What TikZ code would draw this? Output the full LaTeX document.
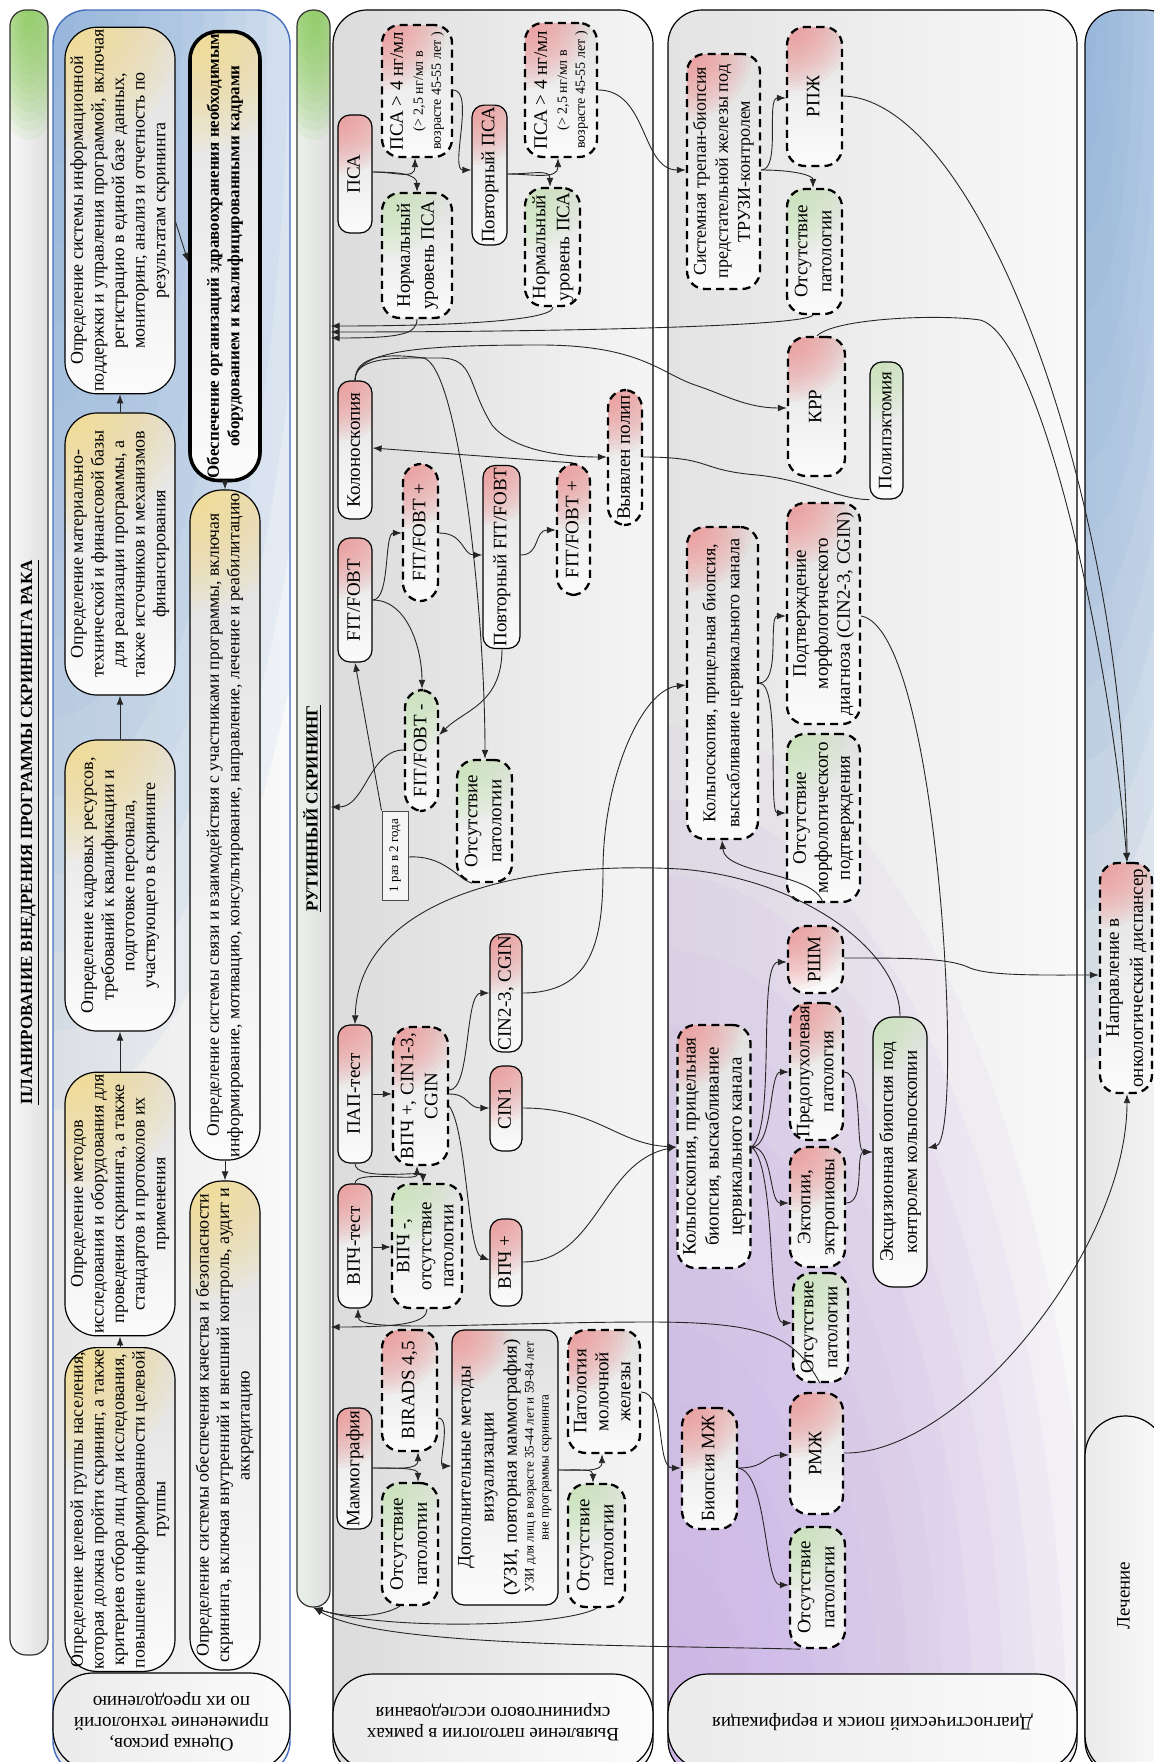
\documentclass[tikz,border=0pt]{standalone}
\usepackage{fontspec}
\setmainfont{Liberation Serif}
\usepackage{graphicx}
\usetikzlibrary{arrows.meta,calc}
\definecolor{pinkc}{RGB}{245,140,140}
\definecolor{greenc}{RGB}{200,235,180}
\definecolor{yellowc}{RGB}{250,220,130}
\definecolor{bluec}{RGB}{130,172,220}
\definecolor{purplec}{RGB}{200,170,232}
\definecolor{bargreen}{RGB}{125,200,70}
\definecolor{bandblue}{RGB}{70,110,190}
\newcommand{\rtxt}[1]{\rotatebox{90}{\begin{tabular}{@{}c@{}}#1\end{tabular}}}
\newcommand{\udtxt}[1]{\rotatebox{180}{\begin{tabular}{@{}c@{}}#1\end{tabular}}}
\newcommand{\mybox}[7]{\node[#2, minimum width={(#5-#3)*0.5pt}, minimum height={(#6-#4)*0.5pt}] (#1) at ({(#3+#5)/2},{(#4+#6)/2}) {#7};}
\newcommand{\smt}[1]{{\fontsize{7}{8}\selectfont #1}}
\newcommand{\softblob}[4]{\foreach \k in {1,...,14}{\fill[#1, opacity=0.09] #2 ellipse ({#3*\k/14} and {#4*\k/14});}}
\tikzset{
  nd/.style={inner sep=1pt, font=\fontsize{9.5}{12}\selectfont, top color=gray!24, bottom color=gray!3},
  corner/.style 2 args={path picture={\softblob{#1}{(path picture bounding box.north west)}{#2}{#2}}},
  sol/.style={nd, draw=black, line width=0.6pt, rounded corners=6pt},
  dsh/.style={nd, draw=black, line width=1.15pt, dash pattern=on 4pt off 2.6pt, rounded corners=9pt},
  solR/.style={sol, corner={pinkc}{60}},
  solG/.style={sol, corner={greenc}{60}},
  dshR/.style={dsh, corner={pinkc}{65}},
  dshG/.style={dsh, corner={greenc}{65}},
  plan/.style={nd, draw=black, line width=0.6pt, rounded corners=16pt, font=\fontsize{9}{10.3}\selectfont, corner={yellowc}{120}},
  labst/.style={draw=black, line width=0.6pt, rounded corners=20pt, left color=gray!16, right color=gray!3, font=\fontsize{9.5}{10.5}\selectfont, inner sep=0pt},
  barst/.style={draw=black!80, line width=0.6pt, rounded corners=8pt, left color=gray!6, right color=gray!25, inner sep=0pt, font=\fontsize{8.5}{10}\selectfont, path picture={\softblob{bargreen}{(path picture bounding box.north)}{45}{130}}},
  con/.style={draw=black!85, line width=0.45pt, -{Latex[length=4.5pt,width=3.4pt]}},
  lin/.style={draw=black!85, line width=0.45pt},
}
\begin{document}
\begin{tikzpicture}[x=0.5pt,y=-0.5pt]
\useasboundingbox (0,0) rectangle (1154,1762);
% ---------- bands
\path[draw=bandblue, line width=0.7pt, rounded corners=17pt, left color=gray!20, right color=gray!4,
  path picture={\softblob{bluec}{(53,10)}{300}{1100}}] (53,10) rectangle (290,1775);
\path[draw=black, line width=0.6pt, rounded corners=17pt, left color=gray!28, right color=gray!8] (333,10) rectangle (653,1775);
\path[draw=black, line width=0.6pt, rounded corners=17pt, left color=gray!22, right color=gray!5,
  path picture={\softblob{purplec}{(668,1775)}{430}{1050}}] (668,10) rectangle (1077,1775);
\path[draw=black, line width=0.6pt, rounded corners=17pt, left color=gray!20, right color=gray!6,
  path picture={\softblob{bluec}{(1085,10)}{170}{1050}}] (1085,10) rectangle (1180,1775);
% ---------- band labels
\mybox{lab2}{labst, path picture={\softblob{bluec}{(53,1775)}{230}{130}}}{53}{1673}{290}{1770}{\udtxt{Оценка рисков,\\применение технологий\\по их преодолению}}
\mybox{lab4}{labst}{333}{1674}{653}{1770}{\udtxt{Выявление патологии в рамках\\скринингового исследования}}
\mybox{lab5}{labst, path picture={\softblob{purplec}{(668,1775)}{320}{160}}}{668}{1674}{1077}{1770}{\udtxt{Диагностический поиск и верификация}}
\mybox{lech}{labst, path picture={\softblob{bluec}{(1085,1416)}{130}{280}}}{1085}{1416}{1166}{1775}{\rtxt{Лечение}}
% ---------- title bars
\mybox{bar1}{barst}{10}{10}{48}{1655}{\rtxt{\bfseries\underline{ПЛАНИРОВАНИЕ ВНЕДРЕНИЯ ПРОГРАММЫ СКРИНИНГА РАКА}}}
\mybox{bar3}{barst, left color=green!22!gray!14}{297}{10}{330}{1607}{\rtxt{\bfseries\underline{РУТИННЫЙ СКРИНИНГ}}}
% ---------- planning column
\mybox{info}{plan}{65}{34}{175}{387}{\rtxt{Определение системы информационной\\поддержки и управления программой, включая\\регистрацию в единой базе данных,\\мониторинг, анализ и отчетность по\\результатам скрининга}}
\mybox{mat}{plan}{65}{413}{175}{695}{\rtxt{Определение материально-\\технической и финансовой базы\\для реализации программы, а\\также источников и механизмов\\финансирования}}
\mybox{kadr}{plan}{65}{740}{175}{1031}{\rtxt{Определение кадровых ресурсов,\\требований к квалификации и\\подготовке персонала,\\участвующего в скрининге}}
\mybox{metod}{plan}{65}{1074}{175}{1334}{\rtxt{Определение методов\\исследования и оборудования для\\проведения скрининга, а также\\стандартов и протоколов их\\применения}}
\mybox{tsel}{plan}{65}{1349}{175}{1670}{\rtxt{Определение целевой группы населения,\\которая должна пройти скрининг, а также\\критериев отбора лиц для исследования,\\повышение информированности целевой\\группы}}
\mybox{obesp}{plan, line width=1.8pt, rounded corners=14pt, font=\fontsize{8.5}{10.3}\selectfont\bfseries}{190}{34}{260}{478}{\rtxt{Обеспечение организаций здравоохранения необходимым\\оборудованием и квалифицированными кадрами}}
\mybox{svyaz}{plan, font=\fontsize{8.8}{10.3}\selectfont}{190}{490}{260}{1160}{\rtxt{Определение системы связи и взаимодействия с участниками программы, включая\\информирование, мотивацию, консультирование, направление, лечение и реабилитацию}}
\mybox{kach}{plan}{190}{1181}{260}{1670}{\rtxt{Определение системы обеспечения качества и безопасности\\скрининга, включая внутренний и внешний контроль, аудит и\\аккредитацию}}
% ---------- routine screening
\mybox{psa}{solR}{338}{115}{372}{233}{\rtxt{ПСА}}
\mybox{psa4a}{dshR}{382}{25}{452}{157}{\rtxt{ПСА > 4 нг/мл\\[-2pt]\smt{(> 2,5 нг/мл в}\\[-3pt]\smt{возрасте 45-55 лет )}}}
\mybox{norma}{dshG}{382}{193}{452}{318}{\rtxt{Нормальный\\уровень ПСА}}
\mybox{povpsa}{solR}{472}{107}{507}{243}{\rtxt{Повторный ПСА}}
\mybox{psa4b}{dshR}{525}{23}{597}{157}{\rtxt{ПСА > 4 нг/мл\\[-2pt]\smt{(> 2,5 нг/мл в}\\[-3pt]\smt{возрасте 45-55 лет )}}}
\mybox{normb}{dshG}{525}{188}{580}{306}{\rtxt{Нормальный\\уровень ПСА}}
\mybox{kolono}{solR}{338}{381}{372}{519}{\rtxt{Колоноскопия}}
\mybox{fitp1}{dshR}{403}{464}{438}{601}{\rtxt{FIT/FOBT +}}
\mybox{povfit}{solR}{483}{466}{520}{648}{\rtxt{Повторный FIT/FOBT}}
\mybox{fitp2}{dshR}{557}{464}{590}{595}{\rtxt{FIT/FOBT +}}
\mybox{polip}{dshR}{608}{390}{642}{525}{\rtxt{Выявлен полип}}
\mybox{fit}{solR}{338}{538}{372}{662}{\rtxt{FIT/FOBT}}
\mybox{fitm}{dshG}{405}{690}{438}{811}{\rtxt{FIT/FOBT -}}
\mybox{otsR}{dshG}{457}{760}{512}{882}{\rtxt{Отсутствие\\патологии}}
\mybox{raz}{draw=gray!60!black, line width=0.5pt, fill=white!92!gray, inner sep=0pt, font=\fontsize{6.5}{8}\selectfont}{382}{811}{408}{900}{\rtxt{1 раз в 2 года}}
\mybox{pap}{solR}{338}{1025}{372}{1163}{\rtxt{ПАП-тест}}
\mybox{vpcin}{dshR}{393}{1027}{448}{1165}{\rtxt{ВПЧ +, CIN1-3,\\CGIN}}
\mybox{cin23}{solR}{490}{934}{522}{1052}{\rtxt{CIN2-3, CGIN}}
\mybox{cin1}{solR}{490}{1066}{522}{1151}{\rtxt{CIN1}}
\mybox{vpcht}{solR}{338}{1184}{372}{1308}{\rtxt{ВПЧ-тест}}
\mybox{vpminus}{dshG, font=\fontsize{9.5}{11}\selectfont}{392}{1184}{462}{1308}{\rtxt{ВПЧ -,\\отсутствие\\патологии}}
\mybox{vpplus}{solR}{490}{1219}{522}{1306}{\rtxt{ВПЧ +}}
\mybox{mammo}{solR}{337}{1408}{372}{1529}{\rtxt{Маммография}}
\mybox{birads}{dshR}{382}{1330}{437}{1451}{\rtxt{BIRADS 4,5}}
\mybox{otsM1}{dshG}{382}{1483}{438}{1605}{\rtxt{Отсутствие\\патологии}}
\mybox{dop}{solR, font=\fontsize{9.5}{11.5}\selectfont}{452}{1330}{558}{1605}{\rtxt{Дополнительные методы\\визуализации\\(УЗИ, повторная маммография)\\[-3pt]{\fontsize{6.5}{7.5}\selectfont УЗИ для лиц в возрасте 35-44 лет и 59-84 лет}\\[-4pt]{\fontsize{6.5}{7.5}\selectfont вне программы скрининга}}}
\mybox{patmzh}{dshR, font=\fontsize{9.5}{11}\selectfont}{568}{1330}{640}{1453}{\rtxt{Патология\\молочной\\железы}}
\mybox{otsM2}{dshG}{568}{1484}{625}{1607}{\rtxt{Отсутствие\\патологии}}
% ---------- diagnostic column
\mybox{sist}{dshR, font=\fontsize{9}{11}\selectfont}{687}{54}{760}{289}{\rtxt{Системная трепан-биопсия\\предстательной железы под\\ТРУЗИ-контролем}}
\mybox{rpzh}{dshR}{787}{27}{842}{166}{\rtxt{РПЖ}}
\mybox{otsD1}{dshG}{787}{189}{842}{314}{\rtxt{Отсутствие\\патологии}}
\mybox{krr}{dshR}{788}{337}{845}{476}{\rtxt{КРР}}
\mybox{polipekt}{solG}{870}{362}{903}{499}{\rtxt{Полипэктомия}}
\mybox{podtv}{dshR, font=\fontsize{9.5}{11}\selectfont}{787}{503}{860}{724}{\rtxt{Подтверждение\\морфологического\\диагноза (CIN2-3, CGIN)}}
\mybox{kolpo1}{dshR, font=\fontsize{9}{12}\selectfont}{687}{527}{758}{839}{\rtxt{Кольпоскопия, прицельная биопсия,\\выскабливание цервикального канала}}
\mybox{otsmorf}{dshG, font=\fontsize{9.5}{11}\selectfont}{787}{734}{860}{902}{\rtxt{Отсутствие\\морфологического\\подтверждения}}
\mybox{rshm}{dshR}{788}{926}{843}{993}{\rtxt{РШМ}}
\mybox{predop}{dshR}{790}{1003}{843}{1140}{\rtxt{Предопухолевая\\патология}}
\mybox{kolpo2}{dshR, font=\fontsize{9.5}{11.5}\selectfont}{678}{1025}{750}{1268}{\rtxt{Кольпоскопия, прицельная\\биопсия, выскабливание\\цервикального канала}}
\mybox{ektop}{dshR}{790}{1147}{845}{1267}{\rtxt{Эктопии,\\эктропионы}}
\mybox{excis}{solG, rounded corners=10pt}{873}{1017}{927}{1287}{\rtxt{Эксцизионная биопсия под\\контролем кольпоскопии}}
\mybox{otsD2}{dshG}{793}{1273}{848}{1382}{\rtxt{Отсутствие\\патологии}}
\mybox{biopmzh}{dshR}{682}{1408}{737}{1529}{\rtxt{Биопсия МЖ}}
\mybox{rmzh}{dshR}{790}{1393}{843}{1514}{\rtxt{РМЖ}}
\mybox{otsD3}{dshG}{790}{1527}{845}{1648}{\rtxt{Отсутствие\\патологии}}
\mybox{napr}{dshR}{1100}{863}{1152}{1093}{\rtxt{Направление в\\онкологический диспансер}}
% ---------- connectors: planning
\draw[con] (tsel.north) -- (metod.south);
\draw[con] (metod.north) -- (kadr.south);
\draw[con] (kadr.north) -- (mat.south);
\draw[con] (mat.north) -- (info.south);
\draw[con] (info.east |- 0,222) -- (obesp.west |- 0,262);
\draw[con] (obesp.south) -- (svyaz.north);
\draw[con] (svyaz.south) -- (kach.north);
% PSA
\draw[con] (psa.east |- 0,172) .. controls +(25,0) and +(0,22) .. (415,0 |- psa4a.south);
\draw[con] (psa.east |- 0,172) .. controls +(25,0) and +(0,-18) .. (417,0 |- norma.north);
\draw[con] (psa4a.east |- 0,90) .. controls +(22,0) and +(-22,0) .. (povpsa.west |- 0,170);
\draw[con] (povpsa.east |- 0,174) .. controls +(25,0) and +(0,22) .. (558,0 |- psa4b.south);
\draw[con] (povpsa.east |- 0,174) .. controls +(25,0) and +(0,-18) .. (550,0 |- normb.north);
\draw[con] (psa4b.east |- 0,90) .. controls +(50,0) and +(-45,0) .. (sist.west |- 0,170);
\draw[con] (417,0 |- norma.south) .. controls +(0,15) and +(70,0) .. (bar3.east |- 0,338);
\draw[con] (553,0 |- normb.south) .. controls +(0,15) and +(100,0) .. (bar3.east |- 0,326);
\draw[con] (813,0 |- otsD1.south) .. controls +(-10,12) and +(200,0) .. (bar3.east |- 0,332);
% colonoscopy
\draw[con] (kolono.north) .. controls +(0,-30) and +(-120,0) .. (540,345) .. controls +(100,0) and +(-35,-12) .. (695,385) .. controls +(30,10) and +(-40,0) .. (krr.west |- 0,408);
\draw[con] (kolono.north) .. controls +(0,-25) and +(-40,0) .. (440,358) .. controls +(35,0) and +(-25,-40) .. (492,425) .. controls +(20,25) and +(-45,0) .. (polip.west |- 0,457);
\draw[con] (kolono.north) .. controls +(0,-25) and +(-35,-5) .. (423,358) .. controls +(35,5) and +(0,-150) .. (485,0 |- otsR.north);
% FIT
\draw[con] (fit.east |- 0,600) .. controls +(18,0) and +(-18,0) .. (fitp1.west |- 0,533);
\draw[con] (fit.east |- 0,600) .. controls +(35,0) and +(0,-40) .. (422,0 |- fitm.north);
\draw[con] (fitp1.east |- 0,533) .. controls +(25,0) and +(-20,0) .. (povfit.west |- 0,555);
\draw[con] (povfit.east |- 0,555) .. controls +(20,0) and +(-22,0) .. (fitp2.west |- 0,530);
\draw[con] (573,0 |- fitp2.north) -- (kolono.east |- 0,448);
\draw[lin] (polip.east |- 0,457) .. controls +(70,0) and +(-60,-5) .. (757,475) .. controls +(50,5) and +(-30,0) .. (polipekt.south west);
\draw[con] (502,0 |- povfit.south) .. controls +(0,55) and +(25,-25) .. (fitm.east |- 0,735);
\draw[con] (fitm.west |- 0,750) .. controls +(-35,0) and +(35,0) .. (bar3.east |- 0,807);
\draw[con] (raz.north west) -- (355,0 |- fit.south);
\draw[lin] (raz.east |- 0,857) .. controls +(35,-2) and +(-15,-5) .. (472,0 |- otsR.south);
% PAP / HPV
\draw[con] (pap.east |- 0,1094) -- (vpcin.west |- 0,1094);
\draw[con] (355,0 |- pap.south) .. controls +(0,18) and +(0,-12) .. (423,0 |- vpminus.north);
\draw[con] (355,0 |- vpcht.north) .. controls +(0,-14) and +(0,16) .. (417,0 |- vpcin.south);
\draw[con] (vpcht.east |- 0,1247) -- (vpminus.west |- 0,1247);
\draw[con] (vpcin.east |- 0,1090) .. controls +(22,0) and +(-25,0) .. (cin23.west |- 0,993);
\draw[con] (vpcin.east |- 0,1094) .. controls +(20,0) and +(-22,0) .. (cin1.west |- 0,1108);
\draw[con] (vpcin.east |- 0,1106) .. controls +(18,25) and +(-22,-8) .. (vpplus.west |- 0,1260);
\draw[con] (cin23.east |- 0,993) .. controls +(70,0) and +(0,70) .. (603,870) .. controls +(0,-90) and +(-45,5) .. (kolpo1.west |- 0,685);
\draw[con] (cin1.east |- 0,1108) .. controls +(75,0) and +(-60,-3) .. (kolpo2.west |- 0,1147);
\draw[con] (vpplus.east |- 0,1262) .. controls +(75,0) and +(-75,15) .. (kolpo2.west |- 0,1147);
\draw[con] (427,0 |- vpminus.south) .. controls +(0,14) and +(70,0) .. (bar3.east |- 0,1327);
\draw[con] (820,0 |- otsD2.south) .. controls +(-25,-45) and +(120,0) .. (650,1322) .. controls +(-160,0) and +(0,25) .. (358,0 |- vpcht.south);
% mammography
\draw[con] (mammo.east |- 0,1468) .. controls +(25,0) and +(0,18) .. (418,0 |- birads.south);
\draw[con] (mammo.east |- 0,1468) .. controls +(25,0) and +(0,-14) .. (418,0 |- otsM1.north);
\draw[con] (birads.east |- 0,1418) .. controls +(14,0) and +(-14,0) .. (dop.west |- 0,1466);
\draw[con] (dop.east |- 0,1470) .. controls +(25,0) and +(0,18) .. (602,0 |- patmzh.south);
\draw[con] (dop.east |- 0,1470) .. controls +(25,0) and +(0,-14) .. (593,0 |- otsM2.north);
\draw[con] (patmzh.east |- 0,1392) .. controls +(25,0) and +(-25,0) .. (biopmzh.west |- 0,1468);
\draw[con] (400,0 |- otsM1.south) .. controls (380,1618) and (345,1618) .. (bar3.south);
\draw[con] (597,0 |- otsM2.south) .. controls (560,1628) and (380,1630) .. (bar3.south);
\draw[con] (800,0 |- otsD3.south) .. controls (650,1645) and (380,1648) .. (bar3.south);
% diagnostics
\draw[con] (sist.east |- 0,170) .. controls +(20,0) and +(-20,0) .. (rpzh.west |- 0,98);
\draw[con] (sist.east |- 0,170) .. controls +(35,0) and +(0,-12) .. (813,0 |- otsD1.north);
\draw[con] (rpzh.east |- 0,96) .. controls (980,100) and (1125,500) .. (1127,0 |- napr.north);
\draw[con] (817,0 |- krr.north) .. controls (835,318) and (940,314) .. (980,320) .. controls (1040,335) and (1110,650) .. (1127,0 |- napr.north);
\draw[con] (rshm.east |- 0,958) .. controls (910,958) and (950,958) .. (970,968) .. controls (990,976) and (1040,975) .. (napr.west |- 0,975);
\draw[con] (rmzh.east |- 0,1453) .. controls (960,1455) and (1127,1250) .. (1127,0 |- napr.south);
\draw[con] (kolpo1.east |- 0,683) .. controls +(22,0) and +(-18,0) .. (podtv.west |- 0,616);
\draw[con] (kolpo1.east |- 0,683) .. controls +(22,0) and +(-18,0) .. (otsmorf.west |- 0,813);
\draw[con] (823,0 |- otsmorf.south) .. controls (815,872) and (725,875) .. (722,0 |- kolpo1.south);
\draw[con] (podtv.east |- 0,616) .. controls (940,630) and (965,1140) .. (excis.east |- 0,1148);
\draw[con] (kolpo2.east |- 0,1147) .. controls +(22,0) and +(-20,0) .. (predop.west |- 0,1072);
\draw[con] (kolpo2.east |- 0,1147) .. controls +(22,0) and +(-20,0) .. (ektop.west |- 0,1203);
\draw[con] (kolpo2.east |- 0,1147) .. controls +(25,-20) and +(-30,0) .. (rshm.west |- 0,962);
\draw[con] (kolpo2.east |- 0,1147) .. controls +(25,20) and +(-25,0) .. (otsD2.west |- 0,1323);
\draw[con] (predop.east |- 0,1072) .. controls +(20,0) and +(-18,0) .. (excis.west |- 0,1152);
\draw[con] (ektop.east |- 0,1203) .. controls +(20,0) and +(-18,0) .. (excis.west |- 0,1152);
\draw[con] (900,0 |- excis.north) .. controls (900,950) and (800,878) .. (680,869) .. controls (520,860) and (358,900) .. (355,0 |- pap.north);
\draw[con] (biopmzh.east |- 0,1468) .. controls +(28,0) and +(-25,0) .. (rmzh.west |- 0,1455);
\draw[con] (biopmzh.east |- 0,1468) .. controls +(30,5) and +(-25,0) .. (otsD3.west |- 0,1585);
\end{tikzpicture}
\end{document}
